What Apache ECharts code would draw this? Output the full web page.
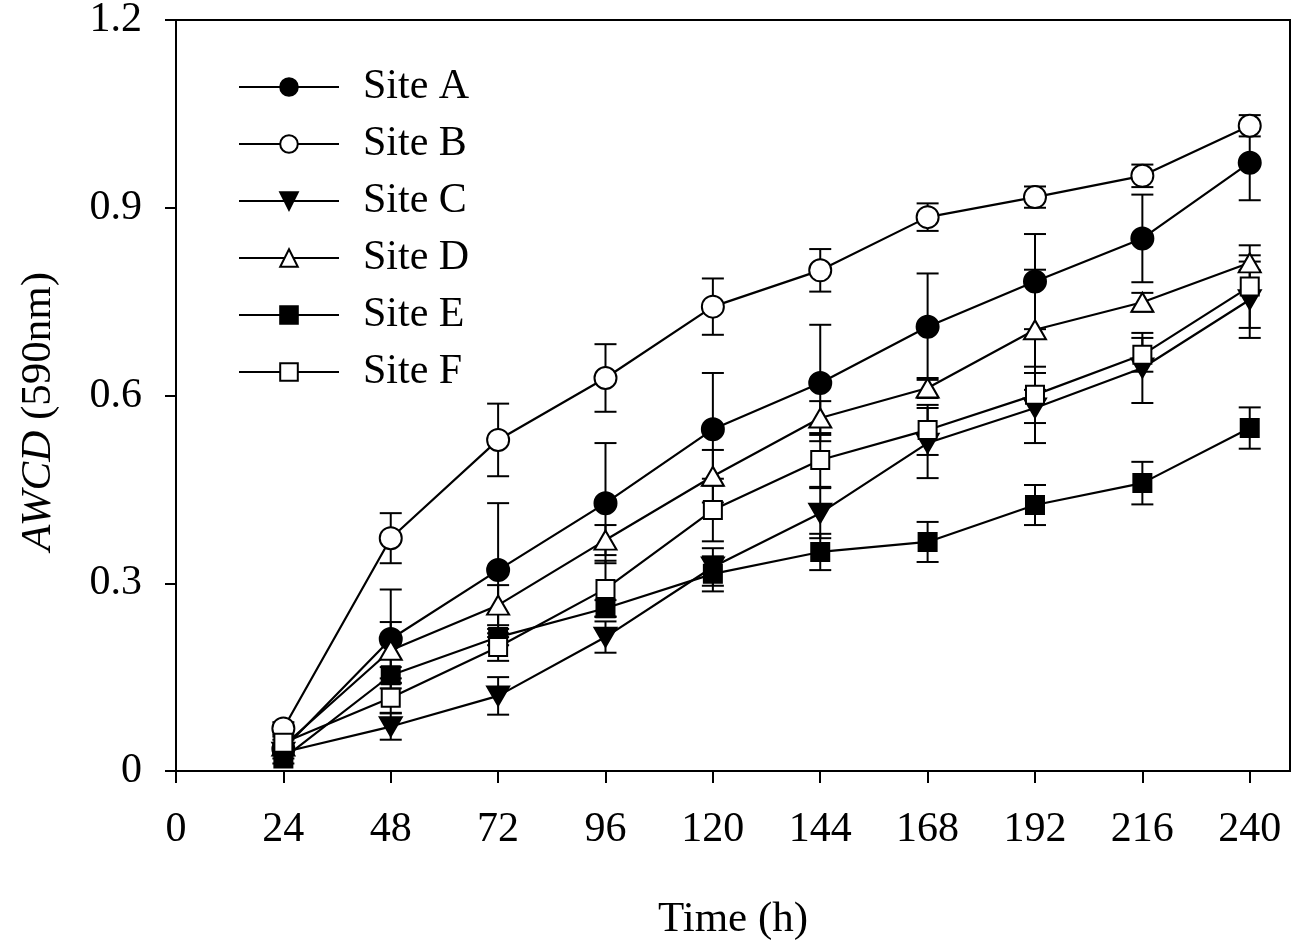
<!DOCTYPE html>
<html>
<head>
<meta charset="utf-8">
<script src="https://cdn.jsdelivr.net/npm/echarts@6/dist/echarts.min.js"></script>
<style>html,body{margin:0;padding:0;background:#fff}#c{width:1292px;height:942px}</style>
</head>
<body>
<div id="c"></div>
<script>
const times = [24, 48, 72, 96, 120, 144, 168, 192, 216, 240];
const xTicks = [0, 24, 48, 72, 96, 120, 144, 168, 192, 216, 240];
const yTicks = [0, 0.3, 0.6, 0.9, 1.2];

const siteA = [0.035, 0.211, 0.321, 0.428, 0.546, 0.620, 0.710, 0.782, 0.851, 0.972];
const siteAErr = [0.010, 0.079, 0.107, 0.096, 0.090, 0.093, 0.085, 0.076, 0.070, 0.060];
const siteB = [0.068, 0.372, 0.529, 0.628, 0.742, 0.800, 0.885, 0.917, 0.951, 1.031];
const siteBErr = [0.010, 0.040, 0.058, 0.054, 0.045, 0.034, 0.022, 0.017, 0.018, 0.017];
const siteC = [0.030, 0.071, 0.120, 0.214, 0.326, 0.412, 0.524, 0.580, 0.644, 0.753];
const siteCErr = [0.010, 0.021, 0.030, 0.025, 0.030, 0.040, 0.056, 0.056, 0.056, 0.061];
const siteD = [0.040, 0.193, 0.265, 0.369, 0.471, 0.564, 0.612, 0.705, 0.749, 0.812];
const siteDErr = [0.010, 0.045, 0.032, 0.024, 0.042, 0.027, 0.016, 0.096, 0.015, 0.012];
const siteE = [0.020, 0.153, 0.214, 0.260, 0.315, 0.350, 0.366, 0.425, 0.460, 0.548];
const siteEErr = [0.008, 0.013, 0.013, 0.013, 0.028, 0.029, 0.032, 0.032, 0.034, 0.033];
const siteF = [0.045, 0.117, 0.198, 0.291, 0.417, 0.497, 0.545, 0.601, 0.665, 0.774];
const siteFErr = [0.010, 0.024, 0.022, 0.045, 0.050, 0.043, 0.040, 0.045, 0.027, 0.066];

const FONT = '"Liberation Serif", "Times New Roman", serif';
const INV_TRI = 'path://M0,0 L20,0 L10,17 Z';
const TRI = 'path://M10,0 L20,17 L0,17 Z';

const sites = [
  {name: 'Site A', vals: siteA, err: siteAErr, symbol: 'circle', size: 22, fill: '#000'},
  {name: 'Site B', vals: siteB, err: siteBErr, symbol: 'circle', size: 22, fill: '#fff'},
  {name: 'Site C', vals: siteC, err: siteCErr, symbol: INV_TRI, size: [22, 19], fill: '#000'},
  {name: 'Site D', vals: siteD, err: siteDErr, symbol: TRI, size: [22, 19], fill: '#fff'},
  {name: 'Site E', vals: siteE, err: siteEErr, symbol: 'rect', size: 18, fill: '#000'},
  {name: 'Site F', vals: siteF, err: siteFErr, symbol: 'rect', size: 18, fill: '#fff'}
];

function errRender(params, api) {
  const x = api.value(0), lo = api.value(1), hi = api.value(2);
  const p1 = api.coord([x, hi]);
  const p2 = api.coord([x, lo]);
  const w = 11;
  const st = {stroke: '#000', lineWidth: 2};
  return {
    type: 'group',
    children: [
      {type: 'line', shape: {x1: p1[0], y1: p1[1], x2: p2[0], y2: p2[1]}, style: st},
      {type: 'line', shape: {x1: p1[0] - w, y1: p1[1], x2: p1[0] + w, y2: p1[1]}, style: st},
      {type: 'line', shape: {x1: p2[0] - w, y1: p2[1], x2: p2[0] + w, y2: p2[1]}, style: st}
    ]
  };
}

const series = [];
sites.forEach(function (s) {
  series.push({
    name: s.name + ' err',
    type: 'custom',
    renderItem: errRender,
    silent: true,
    z: 1,
    encode: {x: 0, y: [1, 2]},
    data: times.map(function (t, i) { return [t, s.vals[i] - s.err[i], s.vals[i] + s.err[i]]; })
  });
});
sites.forEach(function (s) {
  series.push({
    name: s.name,
    type: 'line',
    z: 3,
    symbol: s.symbol,
    symbolSize: s.size,
    showAllSymbol: true,
    lineStyle: {color: '#000', width: 2.2},
    itemStyle: {color: s.fill, borderColor: '#000', borderWidth: 2, opacity: 1},
    emphasis: {disabled: true},
    data: times.map(function (t, i) { return [t, s.vals[i]]; })
  });
});

const chart = echarts.init(document.getElementById('c'), null, {renderer: 'canvas'});
chart.setOption({
  animation: false,
  backgroundColor: '#fff',
  grid: {left: 176, right: 2, top: 20, bottom: 171, show: true, borderColor: '#000', borderWidth: 2, backgroundColor: 'transparent', containLabel: false, outerBoundsMode: 'none'},
  legend: {
    data: sites.map(function (s) { return s.name; }),
    orient: 'vertical',
    left: 238,
    top: 66,
    padding: 0,
    itemWidth: 100,
    itemHeight: 22,
    itemGap: 15,
    selectedMode: false,
    textStyle: {fontFamily: FONT, fontSize: 42, color: '#000', padding: [0, 0, 0, 19]}
  },
  xAxis: {
    type: 'value',
    min: 0,
    max: 249,
    interval: 24,
    name: 'Time (h)',
    nameLocation: 'middle',
    nameGap: 127,
    nameTextStyle: {fontFamily: FONT, fontSize: 43, color: '#000'},
    splitLine: {show: false},
    axisLine: {onZero: false, lineStyle: {color: '#000', width: 2}},
    axisTick: {length: 12, lineStyle: {color: '#000', width: 2}, customValues: xTicks},
    axisLabel: {fontFamily: FONT, fontSize: 42, color: '#000', margin: 38, customValues: xTicks}
  },
  yAxis: {
    type: 'value',
    min: 0,
    max: 1.2,
    interval: 0.3,
    name: '{i|AWCD} (590nm)',
    nameLocation: 'middle',
    nameGap: 116,
    nameRotate: 90,
    nameTextStyle: {
      fontFamily: FONT, fontSize: 43, color: '#000', padding: [0, 32, 0, 0],
      rich: {i: {fontFamily: FONT, fontSize: 43, fontStyle: 'italic', color: '#000'}}
    },
    splitLine: {show: false},
    axisLine: {lineStyle: {color: '#000', width: 2}},
    axisTick: {length: 11, lineStyle: {color: '#000', width: 2}, customValues: yTicks},
    axisLabel: {
      fontFamily: FONT, fontSize: 42, color: '#000', margin: 34, customValues: yTicks,
      formatter: function (v) { return v === 0 ? '0' : v.toFixed(1); }
    }
  },
  series: series
});
</script>
</body>
</html>
